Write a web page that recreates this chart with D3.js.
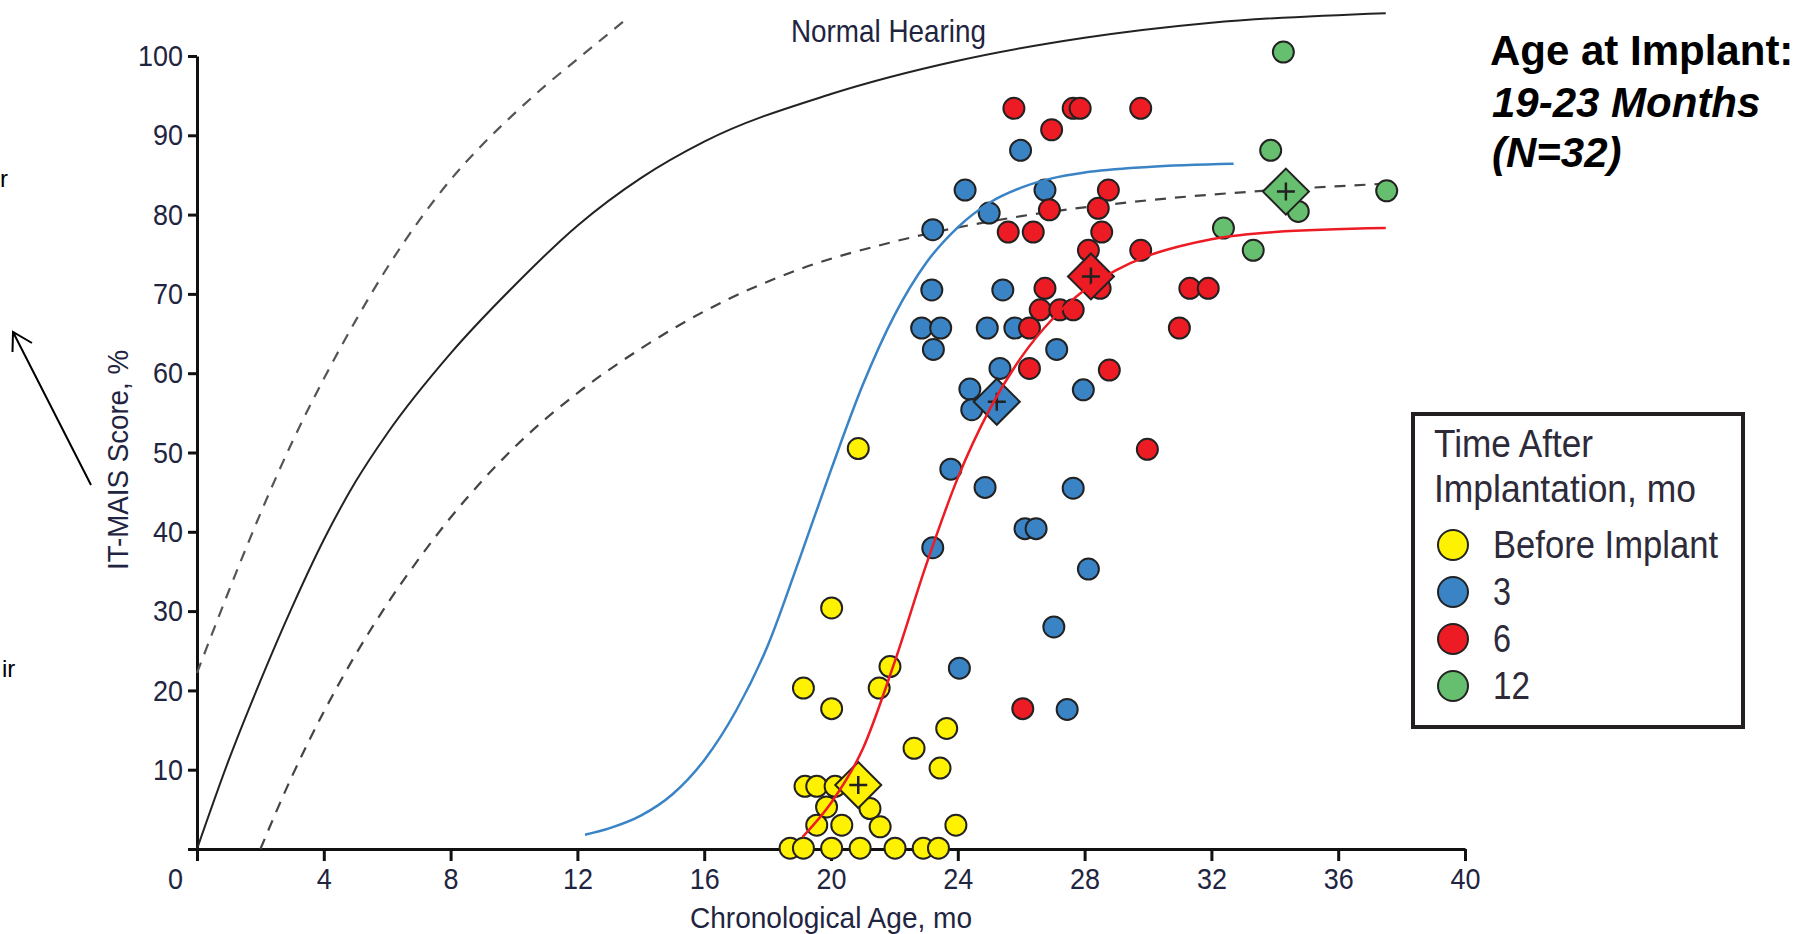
<!DOCTYPE html>
<html>
<head>
<meta charset="utf-8">
<script src="https://cdnjs.cloudflare.com/ajax/libs/d3/7.8.5/d3.min.js"></script>
<style>
  body { margin: 0; background: #fff; }
  svg text { font-family: "Liberation Sans", Arial, sans-serif; }
</style>
</head>
<body>
<svg id="chart" width="1798" height="934"></svg>
<script>
// [age in months, IT-MAIS score %]
var beforePts = [
  [20.86,50.5],[20.02,30.4],[19.13,20.3],[20.02,17.7],[21.86,23.0],[21.52,20.3],
  [23.65,15.2],[22.62,12.7],[23.44,10.2],[19.18,7.9],[19.55,7.9],[20.13,7.9],
  [21.23,5.1],[19.86,5.3],[19.55,3.0],[20.34,3.0],[21.55,2.8],[23.94,3.0],
  [18.71,0.1],[19.13,0.1],[20.02,0.1],[20.92,0.1],[22.02,0.1],[22.91,0.1],[23.39,0.1]
];
var month3Pts = [
  [25.98,88.1],[24.23,83.1],[26.75,83.1],[24.99,80.2],[23.21,78.1],[23.18,70.5],
  [25.42,70.5],[22.86,65.7],[23.46,65.7],[24.93,65.7],[25.8,65.7],[23.23,63.0],
  [27.12,63.0],[25.33,60.6],[24.38,58.0],[24.44,55.4],[27.96,57.9],[23.78,47.9],
  [24.86,45.6],[27.64,45.5],[26.12,40.4],[26.47,40.4],[23.21,38.0],[28.12,35.3],
  [27.03,28.0],[24.05,22.8],[27.45,17.6]
];
var month6Pts = [
  [25.77,93.4],[27.64,93.4],[27.86,93.4],[29.77,93.4],[26.96,90.7],[28.75,83.1],
  [28.43,80.8],[26.89,80.6],[25.59,77.8],[26.38,77.8],[28.54,77.8],[28.12,75.5],
  [29.77,75.5],[28.49,70.7],[26.75,70.7],[31.32,70.7],[31.9,70.7],[26.6,68.0],
  [27.22,68.0],[27.64,68.0],[26.26,65.7],[30.99,65.7],[26.26,60.6],[28.78,60.4],
  [29.98,50.4],[26.05,17.7]
];
var month12Pts = [
  [34.27,100.5],[33.87,88.1],[37.53,83.0],[34.74,80.4],[32.38,78.3],[33.32,75.5]
];
// group means (diamonds)
var groupMeans = [[20.86,8.07],[25.23,56.4],[28.2,72.2],[34.35,82.9]];

var normalCurve = [
  [0,0],[1,11.2],[2,21.2],[3,30.5],[4,39],[5,46.3],[6,52.4],[8,62.5],[10,71],[12,78.6],
  [14,84.6],[16,89.2],[20,95.2],[24,99.4],[28,102.3],[32,104.2],[37.5,105.4]
];
var upperDashCurve = [
  [0,22.2],[1,32.5],[2,42.3],[3,51.3],[4,59.3],[5,66.6],[6,73.3],[7,79.2],[8,84.4],
  [9,88.8],[10,92.7],[11,96.3],[12,99.6],[13.65,105]
];
var lowerDashCurve = [
  [2,0],[3,9.2],[4,17.3],[5,24.5],[6,30.9],[7,36.6],[8,41.8],[10,50.6],[12,57.5],
  [14,63.1],[16,67.8],[19,73.1],[22,76.6],[26,79.8],[30,81.8],[34,83.1],[37.5,83.9]
];
var blueCurve = [
  [12.24,1.8],[13,2.6],[14,4.2],[15,6.9],[16,11.2],[17,17.4],[18,25.6],[19,36.5],
  [20,47.8],[21,58.5],[22,67.3],[23,73.9],[24,78.4],[25,81.5],[26,83.4],[27,84.6],
  [28,85.3],[30,86],[32.7,86.4]
];
var redCurve = [
  [19.1,1.5],[20,5.8],[21,12.6],[22,23.5],[23,35.8],[24,46.8],[25,55.4],[26,62],
  [27,66.9],[28,70.5],[29,73],[30,74.8],[31,76],[32,76.9],[34,77.8],[37.5,78.3]
];

var xTicks = [0,4,8,12,16,20,24,28,32,36,40];
var yTicks = [0,10,20,30,40,50,60,70,80,90,100];
var legendLabels = ["Before Implant","3","6","12"];
var legendWidths = [225,18,18,37];
var groupColors = ["#fff200","#3a84c6","#ed1c24","#66bf6e"];
var groupPts = [beforePts, month3Pts, month6Pts, month12Pts];

var svg = d3.select("#chart");
svg.append("rect").attr("width",1798).attr("height",934).attr("fill","#fff");

var x = d3.scaleLinear().domain([0,40]).range([197,1465]);
var y = d3.scaleLinear().domain([0,100]).range([849,56]);

var textColor = "#1f2540";

// squeeze text to the condensed look of the original
function squeeze(sel, w){
  sel.attr("textLength", w).attr("lengthAdjust","spacingAndGlyphs");
}

// axes
var xAxis = svg.append("g")
  .attr("transform","translate(0," + y(0) + ")")
  .call(d3.axisBottom(x).tickValues(xTicks).tickSize(12).tickSizeOuter(0).tickPadding(7));
var yAxis = svg.append("g")
  .attr("transform","translate(" + x(0) + ",0)")
  .call(d3.axisLeft(y).tickValues(yTicks).tickSize(9).tickSizeOuter(0).tickPadding(5)
    .tickFormat(function(d){ return d === 0 ? "" : d; }));

[xAxis, yAxis].forEach(function(a){
  a.select(".domain").attr("stroke","#111").attr("stroke-width",3);
  a.selectAll(".tick line").attr("stroke","#111").attr("stroke-width",3);
  a.selectAll(".tick text")
    .attr("fill",textColor)
    .attr("font-size",30)
    .style("font-family",'"Liberation Sans", Arial, sans-serif')
    .each(function(){
      var n = this.textContent.length;
      if (n) squeeze(d3.select(this), n*15);
    });
});
xAxis.selectAll(".tick").filter(function(d){ return d === 0; })
  .select("text").attr("x",-22);

// axis titles
svg.append("text")
  .attr("x",831).attr("y",928)
  .attr("text-anchor","middle")
  .attr("font-size",30)
  .attr("fill",textColor)
  .text("Chronological Age, mo")
  .call(squeeze, 282);
svg.append("text")
  .attr("transform","translate(128,460) rotate(-90)")
  .attr("text-anchor","middle")
  .attr("font-size",30)
  .attr("fill",textColor)
  .text("IT-MAIS Score, %")
  .call(squeeze, 220);

svg.append("text")
  .attr("x",791).attr("y",42)
  .attr("font-size",32)
  .attr("fill",textColor)
  .text("Normal Hearing")
  .call(squeeze, 195);

var line = d3.line()
  .x(function(d){ return x(d[0]); })
  .y(function(d){ return y(d[1]); })
  .curve(d3.curveMonotoneX);

// reference curves
svg.append("path").datum(normalCurve)
  .attr("d",line).attr("fill","none")
  .attr("stroke","#222").attr("stroke-width",2);
svg.append("path").datum(upperDashCurve)
  .attr("d",line).attr("fill","none")
  .attr("stroke","#555").attr("stroke-width",2.2).attr("stroke-dasharray","11,9");
svg.append("path").datum(lowerDashCurve)
  .attr("d",line).attr("fill","none")
  .attr("stroke","#444").attr("stroke-width",2.2).attr("stroke-dasharray","11,9");

// points and group means
var diamondHalf = 23;
groupPts.forEach(function(pts,i){
  svg.append("g").selectAll("circle")
    .data(pts)
    .enter().append("circle")
    .attr("cx",function(d){ return x(d[0]); })
    .attr("cy",function(d){ return y(d[1]); })
    .attr("r",10.5)
    .attr("fill",groupColors[i])
    .attr("stroke","#222")
    .attr("stroke-width",2);

  var m = groupMeans[i];
  var g = svg.append("g")
    .attr("transform","translate(" + x(m[0]) + "," + y(m[1]) + ")");
  g.append("path")
    .attr("d","M0," + (-diamondHalf) + "L" + diamondHalf + ",0L0," + diamondHalf + "L" + (-diamondHalf) + ",0Z")
    .attr("fill",groupColors[i])
    .attr("stroke","#222")
    .attr("stroke-width",2);
  g.append("path")
    .attr("d","M-9,0H9M0,-9V9")
    .attr("stroke","#222")
    .attr("stroke-width",2.5);
});

// fitted curves on top
svg.append("path").datum(blueCurve)
  .attr("d",line).attr("fill","none")
  .attr("stroke","#3a84c6").attr("stroke-width",2.5);
svg.append("path").datum(redCurve)
  .attr("d",line).attr("fill","none")
  .attr("stroke","#ed1c24").attr("stroke-width",2.5);

// legend
var legend = svg.append("g");
legend.append("rect")
  .attr("x",1413).attr("y",414).attr("width",330).attr("height",313)
  .attr("fill","#fff").attr("stroke","#231f20").attr("stroke-width",4);
var legendTextColor = "#2d2a3a";
legend.append("text").attr("x",1434).attr("y",457)
  .attr("font-size",38).attr("fill",legendTextColor)
  .text("Time After")
  .call(squeeze, 159);
legend.append("text").attr("x",1434).attr("y",502)
  .attr("font-size",38).attr("fill",legendTextColor)
  .text("Implantation, mo")
  .call(squeeze, 262);
var items = legend.selectAll(".item")
  .data(legendLabels)
  .enter().append("g")
  .attr("class","item")
  .attr("transform",function(d,i){ return "translate(1453," + (545 + i*47) + ")"; });
items.append("circle")
  .attr("r",15)
  .attr("fill",function(d,i){ return groupColors[i]; })
  .attr("stroke","#222").attr("stroke-width",2);
items.append("text")
  .attr("x",40).attr("y",13)
  .attr("font-size",38).attr("fill",legendTextColor)
  .text(function(d){ return d; })
  .each(function(d,i){ squeeze(d3.select(this), legendWidths[i]); });

// title
var title = svg.append("g");
title.append("text").attr("x",1490).attr("y",65)
  .attr("font-size",42).attr("font-weight","bold").attr("fill","#000")
  .text("Age at Implant:");
title.append("text").attr("x",1492).attr("y",117)
  .attr("font-size",42).attr("font-weight","bold").attr("font-style","italic").attr("fill","#000")
  .text("19-23 Months");
title.append("text").attr("x",1492).attr("y",167)
  .attr("font-size",42).attr("font-weight","bold").attr("font-style","italic").attr("fill","#000")
  .text("(N=32)");

// slide fragments on the left edge
svg.append("text").attr("x",0).attr("y",187)
  .attr("font-size",24).attr("fill","#000")
  .text("r");
svg.append("text").attr("x",2).attr("y",677)
  .attr("font-size",24).attr("fill","#000")
  .text("ir");
svg.append("path")
  .attr("d","M91,485L13,332M32,343L13,332L12.5,352")
  .attr("fill","none").attr("stroke","#000").attr("stroke-width",2);
</script>
</body>
</html>
